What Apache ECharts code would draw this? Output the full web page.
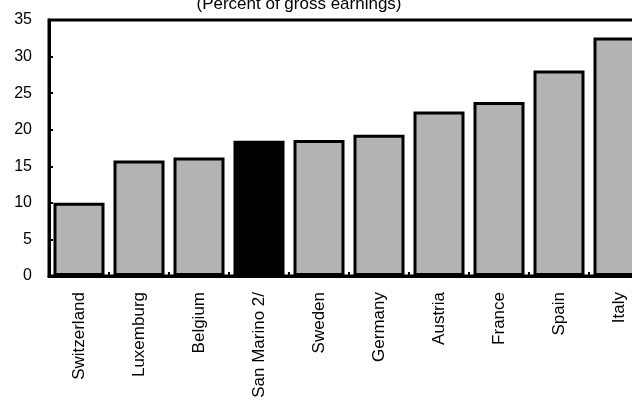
<!DOCTYPE html>
<html>
<head>
<meta charset="utf-8">
<script src="https://cdn.jsdelivr.net/npm/echarts@6/dist/echarts.min.js"></script>
<style>html,body{margin:0;padding:0;background:#fff;}#c{width:632px;height:400px;}</style>
</head>
<body>
<div id="c"></div>
<script>
var categories = ['Switzerland','Luxemburg','Belgium','San Marino 2/','Sweden','Germany','Austria','France','Spain','Italy'];
var values = [10.0, 15.8, 16.2, 18.5, 18.6, 19.3, 22.5, 23.8, 28.1, 32.6];
var highlight = 'San Marino 2/';
var titleText = '(Percent of gross earnings)';
var yMin = 0, yMax = 35, yStep = 5;

var chart = echarts.init(document.getElementById('c'), null, {renderer: 'canvas'});
var font = '"Liberation Sans", Arial, sans-serif';
chart.setOption({
  animation: false,
  title: {
    text: titleText, left: 294, top: -9, textAlign: 'center',
    textStyle: {fontFamily: font, fontSize: 17, fontWeight: 'normal', color: '#000'}
  },
  grid: {left: 49, width: 600, top: 20, bottom: 124, outerBoundsMode: 'none', containLabel: false,
         show: true, borderColor: '#000', borderWidth: 3, backgroundColor: 'transparent'},
  xAxis: {
    type: 'category', data: categories,
    axisLine: {lineStyle: {color: '#000', width: 3}},
    axisTick: {show: true, inside: true, length: 4, lineStyle: {color: '#000', width: 2}},
    axisLabel: {rotate: 90, margin: 16, color: '#000', fontFamily: font, fontSize: 17, interval: 0},
    splitLine: {show: false}
  },
  yAxis: {
    type: 'value', min: yMin, max: yMax, interval: yStep,
    axisLine: {show: true, lineStyle: {color: '#000', width: 3}},
    axisTick: {show: true, inside: true, length: 4, lineStyle: {color: '#000', width: 2}},
    axisLabel: {margin: 17, color: '#000', fontFamily: font, fontSize: 16},
    splitLine: {show: false}
  },
  series: [{
    type: 'bar',
    data: categories.map(function (c, i) {
      return {value: values[i], itemStyle: {color: c === highlight ? '#000' : '#b3b3b3'}};
    }),
    barCategoryGap: '15%',
    itemStyle: {borderColor: '#000', borderWidth: 3}
  }]
});
</script>
</body>
</html>
